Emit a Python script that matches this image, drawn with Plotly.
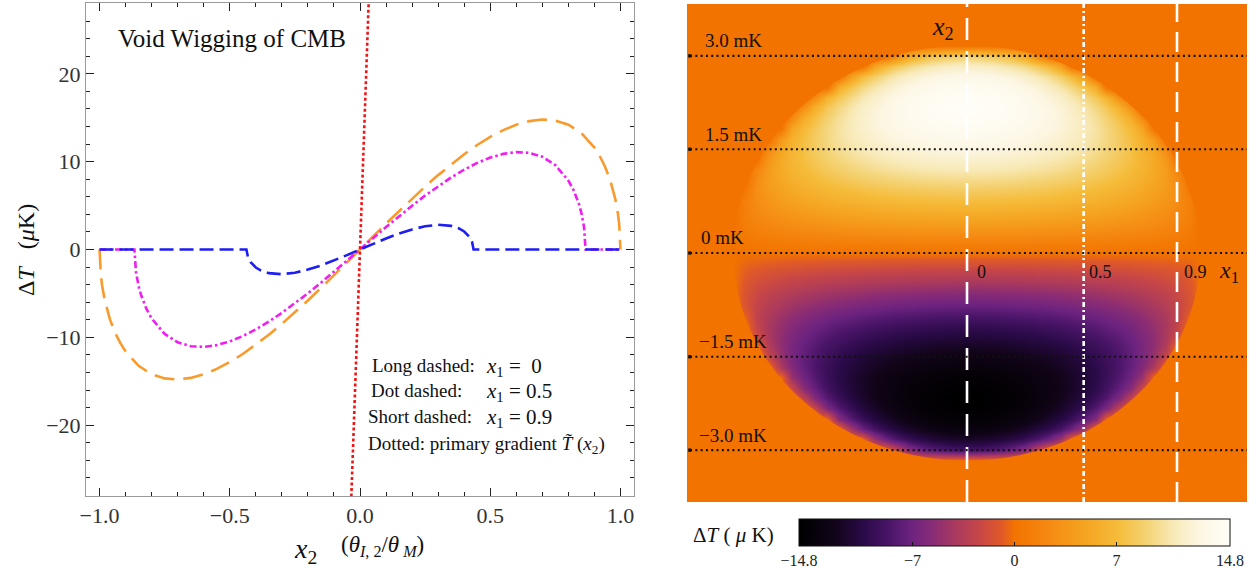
import plotly.graph_objects as go

W, H = 1260, 571
SERIF = "Liberation Serif"

def PX(x):
    return x / W

def PY(y):
    return 1 - y / H

# ---------------- Left panel data ----------------
# x1 = 0 (long dashed, orange) -- positive half, curve is antisymmetric
ORANGE_X = [0.0, 0.05, 0.1, 0.15, 0.2, 0.25, 0.3, 0.35, 0.4, 0.45, 0.5, 0.55, 0.6,
            0.65, 0.7, 0.75, 0.8, 0.85, 0.9, 0.92, 0.94, 0.96, 0.98, 0.99, 0.995, 1.0]
ORANGE_T = [0.0, 1.48, 2.95, 4.39, 5.80, 7.17, 8.47, 9.71, 10.85, 11.90, 12.82, 13.60, 14.21,
            14.62, 14.80, 14.68, 14.21, 13.25, 11.61, 10.67, 9.49, 7.96, 5.77, 4.13, 2.94, 0.0]

# x1 = 0.5 (dot dashed, magenta)
MAGENTA_X = [0.0, 0.05, 0.1, 0.15, 0.2, 0.25, 0.3, 0.35, 0.4, 0.45, 0.5, 0.55, 0.6,
             0.65, 0.7, 0.75, 0.8, 0.82, 0.84, 0.85, 0.86, 0.866, 1.0]
MAGENTA_T = [0.0, 1.28, 2.55, 3.79, 4.99, 6.14, 7.21, 8.21, 9.09, 9.86, 10.47, 10.89, 11.09,
             11.01, 10.57, 9.61, 7.85, 6.76, 5.24, 4.17, 2.60, 0.0, 0.0]

# x1 = 0.9 (short dashed, blue)
BLUE_X = [0.0, 0.05, 0.1, 0.15, 0.2, 0.25, 0.3, 0.35, 0.38, 0.4, 0.42, 0.43, 0.436, 1.0]
BLUE_T = [0.0, 0.64, 1.26, 1.82, 2.29, 2.64, 2.81, 2.69, 2.40, 2.05, 1.45, 0.91, 0.0, 0.0]

# primary gradient (dotted, red)
RED_X = [-0.0355, 0.0355]
RED_T = [-30.0, 30.0]

X_TICKS = [-1.0, -0.5, 0.0, 0.5, 1.0]
X_TICK_TEXT = ["\u22121.0", "\u22120.5", "0.0", "0.5", "1.0"]
Y_TICKS = [-20, -10, 0, 10, 20]
Y_TICK_TEXT = ["\u221220", "\u221210", "0", "10", "20"]

# ---------------- Right panel data: quarter of the map (x1>=0, x2>0) ----------------
Q_X1 = [0.0, 0.05, 0.1, 0.15, 0.2, 0.25, 0.3, 0.35, 0.4, 0.45, 0.5,
        0.55, 0.6, 0.65, 0.7, 0.75, 0.8, 0.85, 0.9, 0.95, 1.0]
Q_X2 = [0.05, 0.1, 0.15, 0.2, 0.25, 0.3, 0.35, 0.4, 0.45, 0.5,
        0.55, 0.6, 0.65, 0.7, 0.75, 0.8, 0.85, 0.9, 0.95]
Q_ROWS = [
    [1.48, 1.48, 1.47, 1.46, 1.45, 1.43, 1.41, 1.38, 1.35, 1.32, 1.28, 1.23, 1.18, 1.12, 1.05, 0.98, 0.88, 0.78, 0.64, 0.46, 0],
    [2.95, 2.94, 2.93, 2.91, 2.89, 2.85, 2.81, 2.76, 2.70, 2.63, 2.55, 2.45, 2.35, 2.23, 2.09, 1.94, 1.75, 1.53, 1.26, 0.88, 0],
    [4.39, 4.38, 4.37, 4.34, 4.30, 4.25, 4.18, 4.11, 4.01, 3.91, 3.79, 3.65, 3.49, 3.31, 3.10, 2.86, 2.58, 2.24, 1.82, 1.22, 0],
    [5.80, 5.79, 5.77, 5.73, 5.68, 5.61, 5.52, 5.42, 5.30, 5.15, 4.99, 4.80, 4.59, 4.34, 4.06, 3.73, 3.35, 2.89, 2.29, 1.42, 0],
    [7.17, 7.16, 7.13, 7.08, 7.01, 6.92, 6.81, 6.68, 6.53, 6.34, 6.14, 5.90, 5.62, 5.31, 4.95, 4.53, 4.04, 3.43, 2.64, 1.38, 0],
    [8.47, 8.46, 8.42, 8.37, 8.28, 8.17, 8.04, 7.88, 7.69, 7.47, 7.21, 6.92, 6.59, 6.20, 5.75, 5.23, 4.61, 3.85, 2.81, 0.77, 0],
    [9.70, 9.69, 9.65, 9.58, 9.48, 9.35, 9.19, 9.00, 8.78, 8.51, 8.21, 7.86, 7.45, 6.99, 6.45, 5.81, 5.05, 4.08, 2.69, 0, 0],
    [10.85, 10.84, 10.79, 10.71, 10.59, 10.44, 10.25, 10.03, 9.76, 9.45, 9.09, 8.68, 8.20, 7.65, 7.00, 6.24, 5.30, 4.06, 2.05, 0, 0],
    [11.90, 11.88, 11.82, 11.73, 11.59, 11.42, 11.20, 10.94, 10.64, 10.27, 9.86, 9.37, 8.81, 8.16, 7.39, 6.46, 5.29, 3.65, 0, 0, 0],
    [12.82, 12.80, 12.73, 12.62, 12.47, 12.27, 12.02, 11.72, 11.37, 10.95, 10.47, 9.90, 9.24, 8.47, 7.55, 6.41, 4.91, 2.45, 0, 0, 0],
    [13.60, 13.57, 13.50, 13.38, 13.20, 12.97, 12.69, 12.35, 11.94, 11.45, 10.89, 10.23, 9.46, 8.54, 7.42, 5.98, 3.90, 0],
    [14.21, 14.18, 14.10, 13.96, 13.76, 13.50, 13.17, 12.78, 12.30, 11.75, 11.09, 10.32, 9.40, 8.28, 6.88, 4.94, 0],
    [14.62, 14.59, 14.49, 14.33, 14.11, 13.81, 13.43, 12.98, 12.43, 11.78, 11.01, 10.09, 8.97, 7.57, 5.69, 2.36, 0],
    [14.80, 14.76, 14.65, 14.47, 14.20, 13.86, 13.43, 12.90, 12.26, 11.49, 10.57, 9.44, 8.02, 6.13, 2.93, 0],
    [14.68, 14.64, 14.52, 14.30, 14.00, 13.59, 13.09, 12.46, 11.69, 10.76, 9.61, 8.16, 6.18, 2.72, 0],
    [14.21, 14.16, 14.01, 13.76, 13.40, 12.92, 12.30, 11.54, 10.59, 9.40, 7.85, 5.68, 0],
    [13.25, 13.19, 13.01, 12.71, 12.26, 11.67, 10.89, 9.91, 8.62, 6.89, 4.17, 0],
    [11.61, 11.54, 11.30, 10.90, 10.32, 9.51, 8.42, 6.92, 4.61, 0],
    [8.78, 8.67, 8.32, 7.70, 6.74, 5.26, 2.44, 0],
]
DISC_RADIUS = 1.0

SLICE_X1 = [0.0, 0.5, 0.9]
LEVEL_Y = [0.95, 0.5, 0.0, -0.5, -0.95]
LEVEL_TEXT = ["3.0 mK", "1.5 mK", "0 mK", "\u22121.5 mK", "\u22123.0 mK"]
CB_TICKS = [-14.8, -7, 0, 7, 14.8]
CB_TEXT = ["\u221214.8", "\u22127", "0", "7", "14.8"]

ZERO_COLOR = "#f27300"
COLORSCALE = [
    [0.00, "#000000"],
    [0.08, "#110418"],
    [0.15, "#2a0a48"],
    [0.21, "#4a1568"],
    [0.26, "#6c2380"],
    [0.31, "#892c76"],
    [0.36, "#a8395f"],
    [0.42, "#c84747"],
    [0.47, "#e05a28"],
    [0.50, ZERO_COLOR],
    [0.58, "#f58a12"],
    [0.66, "#f5a421"],
    [0.74, "#f5bc3a"],
    [0.81, "#f4d477"],
    [0.87, "#f8eab8"],
    [0.93, "#fcf6e2"],
    [1.00, "#fffdf7"],
]

# ---------------- build full curves (antisymmetric) ----------------
def full_curve(xs, ts):
    fx = [-v for v in reversed(xs[1:])] + list(xs)
    ft = [-v for v in reversed(ts[1:])] + list(ts)
    return fx, ft

ox, ot = full_curve(ORANGE_X, ORANGE_T)
mx, mt = full_curve(MAGENTA_X, MAGENTA_T)
bx, bt = full_curve(BLUE_X, BLUE_T)

# ---------------- build full map from the quarter ----------------
n = len(Q_X1)
rows = [r + [0] * (n - len(r)) for r in Q_ROWS]
def mirror_row(r):
    return r[:0:-1] + r
gx = [-v for v in reversed(Q_X1[1:])] + Q_X1
gy = [-1.0] + [-v for v in reversed(Q_X2)] + [0.0] + Q_X2 + [1.0]
zero_row = [0] * (2 * n - 1)
gz = [zero_row] + [[-v for v in mirror_row(r)] for r in reversed(rows)] + [zero_row] \
     + [mirror_row(r) for r in rows] + [zero_row]

fig = go.Figure()

fig.add_trace(go.Scatter(x=ox, y=ot, mode="lines", xaxis="x", yaxis="y",
                         line=dict(color="#f99a2c", width=2.6, dash="20px,9px")))
fig.add_trace(go.Scatter(x=mx, y=mt, mode="lines", xaxis="x", yaxis="y",
                         line=dict(color="#f01ef0", width=2.6, dash="7px,3px,2.5px,3px")))
fig.add_trace(go.Scatter(x=bx, y=bt, mode="lines", xaxis="x", yaxis="y",
                         line=dict(color="#1e1ef2", width=2.6, dash="14px,6px")))
fig.add_trace(go.Scatter(x=RED_X, y=RED_T, mode="lines", xaxis="x", yaxis="y",
                         line=dict(color="#f01414", width=2.6, dash="3px,2.5px")))

fig.add_trace(go.Heatmap(
    x=gx, y=gy, z=gz, xaxis="x2", yaxis="y2", zsmooth="best",
    zmin=-14.8, zmax=14.8, colorscale=COLORSCALE,
    colorbar=dict(orientation="h", x=PX(1014.5), xanchor="center",
                  y=PY(519), yanchor="top", len=431 / W, lenmode="fraction",
                  thickness=27, thicknessmode="pixels", xpad=0, ypad=0,
                  outlinewidth=1, outlinecolor="#111",
                  tickvals=CB_TICKS, ticktext=CB_TEXT, ticks="inside", ticklen=4,
                  tickcolor="#111",
                  tickfont=dict(family=SERIF, size=16, color="#222")),
))

# mask outside the disc (rectangle with a circular hole, even-odd fill)
R = DISC_RADIUS
k = 0.5523 * R
mask_path = (f"M -1.5,-1.5 L 1.5,-1.5 L 1.5,1.5 L -1.5,1.5 Z "
             f"M {R},0 C {R},{k} {k},{R} 0,{R} C {-k},{R} {-R},{k} {-R},0 "
             f"C {-R},{-k} {-k},{-R} 0,{-R} C {k},{-R} {R},{-k} {R},0 Z")

shapes = []
shapes.append(dict(type="rect", xref="x2 domain", yref="y2 domain", x0=0, x1=1, y0=0, y1=1,
                   fillcolor=ZERO_COLOR, line=dict(width=0), layer="below"))
shapes.append(dict(type="path", xref="x2", yref="y2", path=mask_path, fillrule="evenodd",
                   fillcolor=ZERO_COLOR, line=dict(width=0), layer="above"))
dash_styles = ["22px,11px", "5px,3px,2px,3px", "20px,10px"]
for xv, ds in zip(SLICE_X1, dash_styles):
    shapes.append(dict(type="line", xref="x2", yref="y2", x0=xv, x1=xv, y0=-1.2, y1=1.2,
                       line=dict(color="white", width=2.6, dash=ds)))
for yv in LEVEL_Y:
    shapes.append(dict(type="line", xref="x2", yref="y2", x0=-1.187, x1=1.2, y0=yv, y1=yv,
                       line=dict(color="#111", width=2.2, dash="2px,3.3px")))
    shapes.append(dict(type="rect", xref="x2", yref="y2", x0=-1.195, x1=-1.182,
                       y0=yv - 0.008, y1=yv + 0.008, fillcolor="#111", line=dict(width=0)))

ann = []
def text(x, y, s, size, xanchor="center", yanchor="middle", angle=0, color="#111"):
    ann.append(dict(x=PX(x), y=PY(y), xref="paper", yref="paper", text=s, showarrow=False,
                    xanchor=xanchor, yanchor=yanchor, textangle=angle,
                    font=dict(family=SERIF, size=size, color=color)))

# left panel texts
text(232, 39, "Void Wigging of CMB", 25)
leg_labels = ["Long dashed:", "Dot dashed:", "Short dashed:"]
leg_eq = ["<i>x</i><sub>1</sub> =  0", "<i>x</i><sub>1</sub> = 0.5", "<i>x</i><sub>1</sub> = 0.9"]
leg_y = [365, 390, 416]
leg_lx = [370, 369, 366]
for lab, eq, yy, lx in zip(leg_labels, leg_eq, leg_y, leg_lx):
    text(lx, yy, lab, 19, xanchor="left")
    text(484, yy + 2, eq, 21, xanchor="left")
text(366, 445, "Dotted: primary gradient <i>T\u0303</i> (<i>x</i><sub>2</sub>)", 19, xanchor="left")
text(26, 250, "\u0394<i>T</i>   (<i>\u03bc</i>K)", 24, angle=-90)
text(305, 550, "<i>x</i><sub>2</sub>", 28)
text(383, 546, "(<i>\u03b8</i><sub><i>I</i>, 2</sub>/<i>\u03b8</i><sub> <i>M</i></sub>)", 23)

# right panel texts
level_px = [56, 150, 253, 357, 451]
level_lx = [703, 703, 699, 697, 697]
for s, yp, lx in zip(LEVEL_TEXT, level_px, level_lx):
    text(lx, yp - 3, s, 19, xanchor="left", yanchor="bottom")
text(943, 28, "<i>x</i><sub>2</sub>", 26)
text(981, 272, "0", 18)
text(1100, 272, "0.5", 18)
text(1195, 272, "0.9", 18)
text(1229, 272, "<i>x</i><sub>1</sub>", 24)
text(733, 535, "\u0394<i>T</i> ( <i>\u03bc</i> K)", 21)

fig.update_layout(
    width=W, height=H, margin=dict(l=0, r=0, t=0, b=0, pad=0, autoexpand=False),
    paper_bgcolor="white", plot_bgcolor="white", showlegend=False,
    shapes=shapes, annotations=ann,
    xaxis=dict(domain=[PX(86), PX(634)], range=[-1.052, 1.052],
               tickvals=X_TICKS, ticktext=X_TICK_TEXT, automargin=False,
               ticks="inside", ticklen=8, tickwidth=1, tickcolor="#222",
               minor=dict(dtick=0.1, tick0=0, ticks="inside", ticklen=4, tickcolor="#222"),
               showline=True, linecolor="#9a9a9a", linewidth=1, mirror="ticks",
               showgrid=False, zeroline=False,
               tickfont=dict(family=SERIF, size=22, color="#333")),
    yaxis=dict(domain=[PY(496), PY(3)], range=[-28.07, 28.07],
               tickvals=Y_TICKS, ticktext=Y_TICK_TEXT, automargin=False,
               ticks="inside", ticklen=8, tickwidth=1, tickcolor="#222",
               minor=dict(dtick=2, tick0=0, ticks="inside", ticklen=4, tickcolor="#222"),
               showline=True, linecolor="#9a9a9a", linewidth=1, mirror="ticks",
               showgrid=False, zeroline=False,
               tickfont=dict(family=SERIF, size=22, color="#333")),
    xaxis2=dict(domain=[PX(687), PX(1247)], range=[-1.2, 1.2], anchor="y2", automargin=False,
                showticklabels=False, ticks="", showgrid=False, zeroline=False, showline=False),
    yaxis2=dict(domain=[PY(502), PY(4)], range=[-1.2, 1.2], anchor="x2", automargin=False,
                showticklabels=False, ticks="", showgrid=False, zeroline=False, showline=False),
)

fig.write_html("out.html", config={"displayModeBar": False},
               post_script="document.body.style.margin='0';document.body.style.overflow='hidden';")
